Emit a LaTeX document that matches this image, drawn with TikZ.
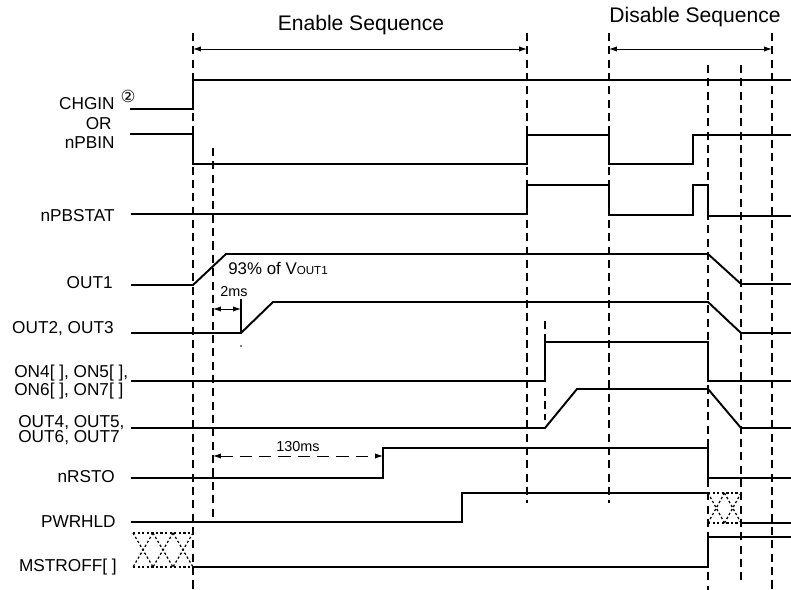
\documentclass[tikz,border=0pt]{standalone}
\usepackage{fontspec}
\setmainfont{Liberation Sans}
\newfontfamily\symfont{DejaVu Sans}
\usetikzlibrary{arrows.meta}

\begin{document}
\begin{tikzpicture}[x=0.02cm, y=-0.02cm,
  sig/.style={line width=1.1pt, line join=miter},
  guide/.style={line width=0.85pt, dash pattern=on 4.6pt off 3pt},
  hatch/.style={line width=0.7pt, dash pattern=on 1.3pt off 1.3pt},
  arr/.style={{Latex[length=4.5pt,width=3pt]}-{Latex[length=4.5pt,width=3pt]}, line width=0.55pt},
  lbl/.style={anchor=east, inner sep=0pt, font=\fontsize{9.8}{11}\selectfont},
  lbltwo/.style={anchor=west, inner sep=0pt, align=left},
  note/.style={inner sep=0pt, font=\fontsize{8.2}{9}\selectfont},
  head/.style={inner sep=0pt, font=\fontsize{12}{13}\selectfont}
]
\useasboundingbox (0,0) rectangle (791,590);

% time markers
\foreach \x/\ya/\yb in {193/33/590, 213/148/522, 527/33/503, 609/33/503,
                        708/65/590, 741/65/583, 772/33/590, 545/321/420}
  \draw[guide] (\x,\ya) -- (\x,\yb);
\draw[line width=0.85pt] (241,299) -- (241,334);
\fill (241,346) circle (0.5pt);

% signal names
\node[lbl] (chgin) at (115,104) {CHGIN};
\node[inner sep=0pt, font=\symfont\fontsize{9.5}{9.5}\selectfont] (circ) at (128,96) {②};
\node[lbl] (or) at (112,124) {OR};
\node[lbl] (npbin) at (115,143) {nPBIN};
\node[lbl] (npbstat) at (115,216) {nPBSTAT};
\node[lbl] (out1) at (113,283) {OUT1};
\node[lbl] (out23) at (114,329) {OUT2, OUT3};
\node[lbltwo, font=\fontsize{9.8}{8.1}\selectfont] (on47) at (14,382) {ON4[ ], ON5[ ],\\ON6[ ], ON7[ ]};
\node[lbltwo, font=\fontsize{9.8}{8.5}\selectfont] (out47) at (18,430) {OUT4, OUT5,\\OUT6, OUT7};
\node[lbl] (nrsto) at (115,477) {nRSTO};
\node[lbl] (pwrhld) at (116,522) {PWRHLD};
\node[lbl] (mstroff) at (117,567) {MSTROFF[ ]};

% waveforms
\draw[sig] (130,109) -- (193,109) -- (193,80) -- (791,80);
\draw[sig] (130,134) -- (193,134) -- (193,164) -- (527,164) -- (527,135) -- (609,135)
  -- (609,164) -- (693,164) -- (693,135) -- (791,135);
\draw[sig] (131,214) -- (527,214) -- (527,185) -- (609,185) -- (609,215) -- (693,215)
  -- (693,185) -- (708,185) -- (708,216) -- (791,216);
\draw[sig] (131,285) -- (193,285) -- (226,254) -- (708,254) -- (741,284) -- (791,284);
\draw[sig] (131,333) -- (241,333) -- (273,302) -- (708,302) -- (741,333) -- (791,333);
\draw[sig] (131,381) -- (545,381) -- (545,342) -- (708,342) -- (708,381) -- (791,381);
\draw[sig] (131,428) -- (545,428) -- (577,389) -- (708,389) -- (741,428) -- (791,428);
\draw[sig] (131,478) -- (383,478) -- (383,448) -- (708,448) -- (708,478) -- (791,478);
\draw[sig] (131,522) -- (462,522) -- (462,493) -- (708,493);
\draw[sig] (741,523) -- (791,523);
\draw[sig] (193,567) -- (708,567) -- (708,537) -- (791,537);

% don't-care regions
\draw[hatch] (133,533) -- (193,533) (133,567) -- (193,567);
\foreach \i in {0,1,2}
  \draw[hatch] (133+20*\i,533) -- (153+20*\i,567) (153+20*\i,533) -- (133+20*\i,567);
\draw[hatch] (708,493) -- (741,493) (708,523) -- (741,523);
\foreach \i in {0,1}
  \draw[hatch] (708+16.5*\i,493) -- (724.5+16.5*\i,523) (724.5+16.5*\i,493) -- (708+16.5*\i,523);

% sequence spans
\coordinate (en0) at (193,49);
\coordinate (en1) at (527,49);
\coordinate (dis0) at (609,49);
\coordinate (dis1) at (772,49);
\coordinate (dly0) at (213,309);
\coordinate (dly1) at (241,309);
\coordinate (rst0) at (213,456);
\coordinate (rst1) at (383,456);
\draw[arr] (en0) -- (en1);
\draw[arr] (dis0) -- (dis1);
\draw[arr] (dly0) -- (dly1);
\draw[arr, dash pattern=on 7pt off 4pt] (rst0) -- (rst1);

\node[head] (enable) at (361,25) {Enable Sequence};
\node[head] (disable) at (695,17) {Disable Sequence};
\node[note] (t2ms) at (234,292) {2ms};
\node[note] (t130) at (298,447) {130ms};
\node[anchor=west, inner sep=0pt, font=\fontsize{9.6}{10}\selectfont] (pct) at (228,268)
  {93\% of V{\fontsize{6.6}{7}\selectfont OUT1}};

\end{tikzpicture}
\end{document}
